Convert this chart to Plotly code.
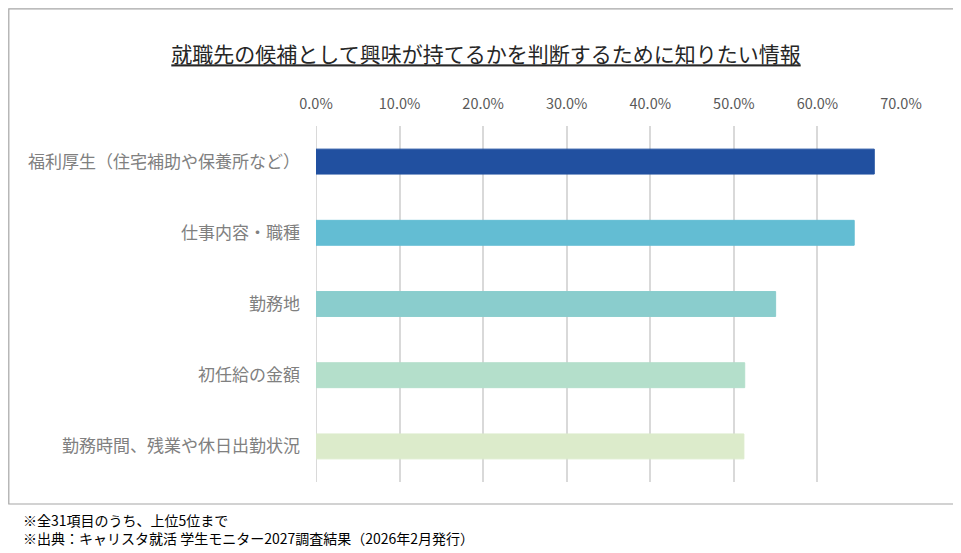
import plotly.graph_objects as go

categories = ["福利厚生（住宅補助や保養所など）", "仕事内容・職種", "勤務地", "初任給の金額", "勤務時間、残業や休日出勤状況"]
values = [66.8, 64.4, 55.0, 51.3, 51.2]
colors = ["#2150A0", "#63BDD3", "#8ACDCD", "#B4DFCB", "#DCEBCB"]
tick_vals = [0, 10, 20, 30, 40, 50, 60, 70]
tick_text = ["0.0%", "10.0%", "20.0%", "30.0%", "40.0%", "50.0%", "60.0%", "70.0%"]
title = "就職先の候補として興味が持てるかを判断するために知りたい情報"
notes = ["※全31項目のうち、上位5位まで", "※出典：キャリスタ就活 学生モニター2027調査結果（2026年2月発行）"]

FONT = "Noto Sans CJK JP"

# figure is placed by the page at an 8px offset; layout is in figure pixels
W, H = 953, 545
L, R, T, B = 308, 60, 118, 71
PW, PH = W - L - R, H - T - B


def px(x):
    return (x - L) / PW


def py(y):
    return (H - B - y) / PH


fig = go.Figure(go.Bar(
    x=values, y=categories, orientation="h",
    marker=dict(color=colors, line=dict(color=colors, width=1)),
    width=0.35, hoverinfo="skip",
))

fig.update_layout(
    width=W, height=H,
    margin=dict(l=L, r=R, t=T, b=B),
    paper_bgcolor="white", plot_bgcolor="white",
    showlegend=False,
    font=dict(family=FONT),
    title=dict(
        text=title, x=478 / W, xanchor="center", y=1 - 47 / H, yanchor="middle", xref="container",
        font=dict(family=FONT, size=21, color="#262626", lineposition="under"),
    ),
    xaxis=dict(
        side="top", range=[0, 70], tickvals=tick_vals, ticktext=tick_text,
        showgrid=True, gridcolor="#D9D9D9", gridwidth=1.5, zeroline=False,
        showline=False, ticks="", ticklabelstandoff=13,
        tickfont=dict(family=FONT, size=14.5, color="#595959"),
        fixedrange=True,
    ),
    yaxis=dict(
        autorange="reversed", showgrid=False, zeroline=False,
        showline=False, ticks="", ticklabelstandoff=15,
        tickfont=dict(family=FONT, size=17, color="#808080"),
        fixedrange=True,
    ),
    shapes=[
        dict(type="rect", xref="paper", yref="paper",
             x0=px(0.8), x1=px(947.5), y0=py(496), y1=py(0.8),
             line=dict(color="#A6A6A6", width=1.2), fillcolor="rgba(0,0,0,0)", layer="below"),
        dict(type="line", xref="x", yref="paper", x0=0, x1=0, y0=0, y1=1,
             line=dict(color="#D9D9D9", width=2), layer="below"),
    ],
    annotations=[
        dict(text=notes[0] + "<br>" + notes[1], xref="paper", yref="paper",
             x=px(13), y=py(500), xanchor="left", yanchor="top",
             align="left", showarrow=False,
             font=dict(family=FONT, size=14, color="#000000")),
    ],
)

fig.write_html("out.html")
